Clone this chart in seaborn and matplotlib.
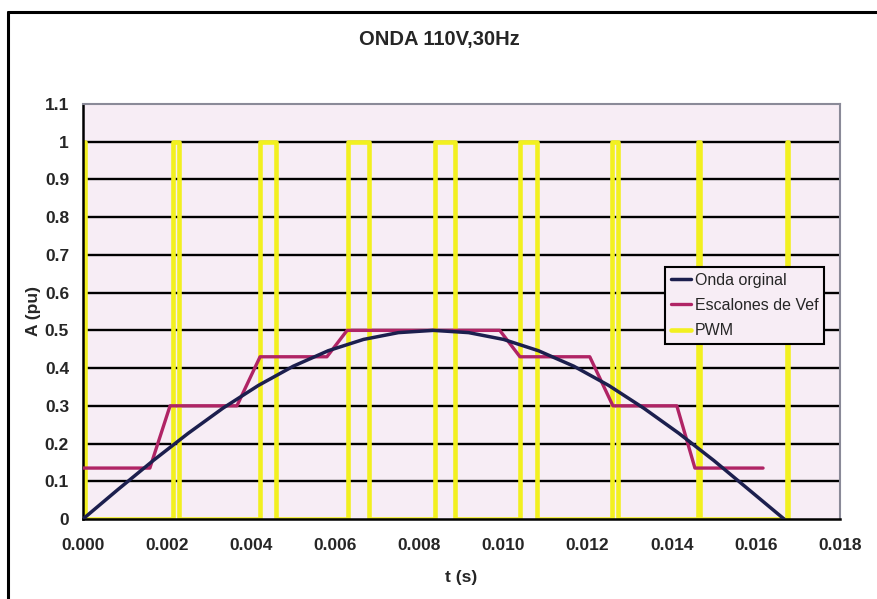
import matplotlib
matplotlib.use("Agg")
import matplotlib.pyplot as plt
from matplotlib.lines import Line2D
import seaborn as sns
import pandas as pd

# ---------------- data ----------------
t_onda = [0, 0.00083, 0.00167, 0.0025, 0.00333, 0.00417, 0.005, 0.00583, 0.00667, 0.0075,
          0.00833, 0.00917, 0.01, 0.01083, 0.01167, 0.0125, 0.01333, 0.01417, 0.015, 0.01583, 0.01667]
a_onda = [0, 0.078, 0.155, 0.227, 0.294, 0.354, 0.405, 0.446, 0.476, 0.494,
          0.5, 0.494, 0.476, 0.446, 0.405, 0.354, 0.294, 0.227, 0.155, 0.078, 0]

t_esc = [0, 0.00159, 0.00207, 0.00366, 0.00421, 0.0058, 0.00628, 0.00991, 0.01039,
         0.01205, 0.0126, 0.01412, 0.01455, 0.01617]
a_esc = [0.135, 0.135, 0.30, 0.30, 0.43, 0.43, 0.50, 0.50, 0.43,
         0.43, 0.30, 0.30, 0.135, 0.135]

pwm_on = [0.0, 0.00213, 0.00422, 0.00631, 0.00837, 0.01039, 0.01259, 0.01462, 0.01673]
pwm_off = [0.00005, 0.00229, 0.00458, 0.00681, 0.00884, 0.01079, 0.01271, 0.01468, 0.01677]
pwm_high = 1.0
pwm_low = 0.0

x_ticks = [0.000, 0.002, 0.004, 0.006, 0.008, 0.010, 0.012, 0.014, 0.016, 0.018]
y_ticks = [0, 0.1, 0.2, 0.3, 0.4, 0.5, 0.6, 0.7, 0.8, 0.9, 1.0, 1.1]
y_labels = ["0", "0.1", "0.2", "0.3", "0.4", "0.5", "0.6", "0.7", "0.8", "0.9", "1", "1.1"]

title = "ONDA 110V,30Hz"
xlabel = "t (s)"
ylabel = "A (pu)"
names = ["Onda orginal", "Escalones de Vef", "PWM"]

# build PWM square wave from pulse edges
t_pwm, a_pwm = [], []
for on, off in zip(pwm_on, pwm_off):
    if on > 0:
        t_pwm += [on]
        a_pwm += [pwm_low]
    t_pwm += [on, off, off]
    a_pwm += [pwm_high, pwm_high, pwm_low]

df_onda = pd.DataFrame({"t": t_onda, "A": a_onda})
df_esc = pd.DataFrame({"t": t_esc, "A": a_esc})
df_pwm = pd.DataFrame({"t": t_pwm, "A": a_pwm})

# ---------------- style ----------------
sns.set_style("white")
plt.rcParams["font.family"] = ["Liberation Sans", "DejaVu Sans"]
plt.rcParams["font.weight"] = "bold"

fig = plt.figure(figsize=(8.78, 5.99), dpi=100)
fig.patch.set_facecolor("white")
L, R, T, B = 83, 840, 104, 519
W, H = 878, 599
ax = fig.add_axes([L / W, 1 - B / H, (R - L) / W, (B - T) / H])
bg = "#f7edf5"
ax.set_facecolor(bg)

for yv in y_ticks[1:-1]:
    ax.axhline(yv, color="black", lw=1.7, zorder=1)

sns.lineplot(data=df_pwm, x="t", y="A", ax=ax, sort=False, estimator=None,
             color="#f2f020", lw=3.3, label=names[2], zorder=2)
sns.lineplot(data=df_esc, x="t", y="A", ax=ax, sort=False, estimator=None,
             color="#b02465", lw=2.4, label=names[1], zorder=3)
sns.lineplot(data=df_onda, x="t", y="A", ax=ax, sort=False, estimator=None,
             color="#1c1f4e", lw=2.5, label=names[0], zorder=4)

ax.set_xlim(0, 0.018)
ax.set_ylim(0, 1.1)
ax.set_xticks(x_ticks)
ax.set_xticklabels([f"{v:.3f}" for v in x_ticks])
ax.set_yticks(y_ticks)
ax.set_yticklabels(y_labels)
ax.tick_params(axis="both", direction="out", length=6, width=1.5, color="black",
               labelsize=12.5, pad=4)
ax.tick_params(axis="x", pad=8)
for lab in ax.get_xticklabels() + ax.get_yticklabels():
    lab.set_fontweight("bold")

for side in ["left", "bottom"]:
    ax.spines[side].set_color("black")
    ax.spines[side].set_linewidth(1.8)
for side in ["top", "right"]:
    ax.spines[side].set_color("#8a8a98")
    ax.spines[side].set_linewidth(1.5)

ax.set_xlabel(xlabel, fontsize=12.5, fontweight="bold", labelpad=12)
ax.set_ylabel(ylabel, fontsize=12.5, fontweight="bold", labelpad=3)

fig.text(0.5, 1 - 40 / H, title, ha="center", va="center",
         fontsize=14.5, fontweight="bold")

handles, labels = ax.get_legend_handles_labels()
order = [labels.index(n) for n in names]
leg = ax.legend([handles[i] for i in order], [labels[i] for i in order],
                loc="upper left", bbox_to_anchor=(665 / W, 1 - 267 / H),
                bbox_transform=fig.transFigure, frameon=True, fancybox=False,
                edgecolor="black", facecolor=bg, framealpha=1,
                fontsize=11.5, handlelength=1.3, handletextpad=0.2,
                labelspacing=0.65, borderpad=0.35, borderaxespad=0)
leg.get_frame().set_linewidth(1.5)
for txt in leg.get_texts():
    txt.set_fontweight("normal")

# outer chart frame (left and top edges)
fig.add_artist(Line2D([8 / W, 8 / W], [0, 1 - 12 / H], transform=fig.transFigure,
                      color="black", lw=2.2))
fig.add_artist(Line2D([8 / W, 1], [1 - 12 / H, 1 - 12 / H], transform=fig.transFigure,
                      color="black", lw=2.2))

fig.savefig("out.png", dpi=100)
